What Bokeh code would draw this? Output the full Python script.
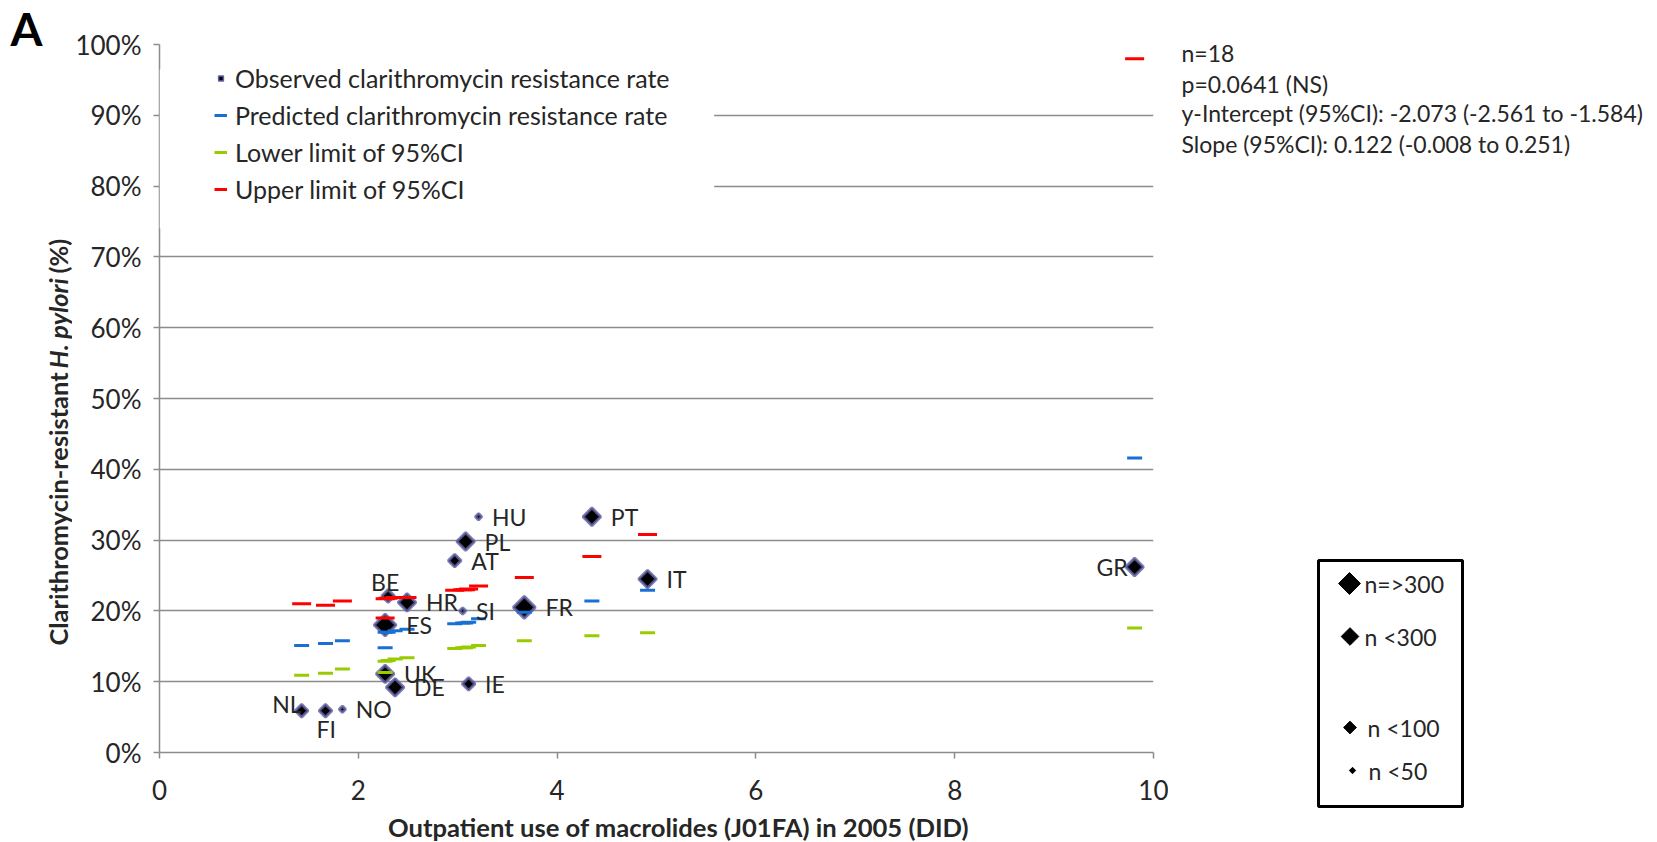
import math
from bokeh.plotting import figure
from bokeh.models import (ColumnDataSource, Range1d, NumeralTickFormatter, FixedTicker,
                          Legend, LegendItem, BoxAnnotation)
from bokeh.layouts import row, column
from bokeh.embed import file_html
from bokeh.resources import INLINE
from bokeh.core.properties import value

# ---------------- data ----------------
countries = ["NL", "FI", "NO", "ES", "UK", "BE", "DE", "HR", "AT", "SI",
             "PL", "IE", "HU", "FR", "PT", "IT", "GR"]
macrolide_use = [1.43, 1.67, 1.84, 2.27, 2.27, 2.30, 2.37, 2.49, 2.97, 3.05,
                 3.08, 3.11, 3.21, 3.67, 4.35, 4.91, 9.81]
observed_pct = [5.9, 5.9, 6.1, 18.0, 11.1, 22.1, 9.2, 21.2, 27.1, 20.0,
                29.8, 9.7, 33.3, 20.5, 33.3, 24.5, 26.2]
predicted_pct = [15.1, 15.4, 15.8, 17.0, 14.8, 17.0, 17.2, 17.4, 18.2, 18.3,
                 18.3, 18.4, 18.9, 19.8, 21.4, 22.9, 41.6]
lower_ci_pct = [10.9, 11.2, 11.8, 12.9, 11.3, 13.0, 13.2, 13.4, 14.7, 14.8,
                14.8, 14.9, 15.1, 15.8, 16.5, 16.9, 17.6]
upper_ci_pct = [21.0, 20.8, 21.4, 21.7, 19.0, 21.8, 21.9, 21.9, 22.9, 23.0,
                23.0, 23.1, 23.5, 24.7, 27.7, 30.8, 98.0]
sample_group = ["n <100", "n <100", "n <50", "n=>300", "n <300", "n <100", "n <300",
                "n <300", "n <100", "n <50", "n <300", "n <100", "n <50", "n=>300",
                "n <300", "n <300", "n <300"]
size_groups = ["n=>300", "n <300", "n <100", "n <50"]
stats_lines = ["n=18", "p=0.0641 (NS)",
               "y-Intercept (95%CI): -2.073 (-2.561 to -1.584)",
               "Slope (95%CI): 0.122 (-0.008 to 0.251)"]
legend_labels = ["Observed clarithromycin resistance rate",
                 "Predicted clarithromycin resistance rate",
                 "Lower limit of 95%CI", "Upper limit of 95%CI"]
x_ticks = [0, 2, 4, 6, 8, 10]
y_ticks = [0.0, 0.1, 0.2, 0.3, 0.4, 0.5, 0.6, 0.7, 0.8, 0.9, 1.0]
x_title = "Outpatient use of macrolides (J01FA) in 2005 (DID)"
y_title_parts = ["Clarithromycin-resistant", "H. pylori", "(%)"]
panel_letter = "A"

# ---------------- style ----------------
FONT = "Lato"
TXT = "#262626"
GRIDC = "#8c8c8c"
BLUE = "#1a6fd4"
GREEN = "#99cc00"
RED = "#ff0000"
HALO = "#5f5fa3"
HALO_W = 3.0
GROUP_SIZE = {"n=>300": 15.5, "n <300": 12.5, "n <100": 9.0, "n <50": 4.5}
LABEL_POS = {"NL": "upleft", "FI": "below", "BE": "above", "GR": "left"}
ROW_H = 812
TOTAL_W = 1657
TOTAL_H = 842
LEFT_W = 72
MAIN_W = 1096


def panel(width, height, y0, y1):
    f = figure(width=width, height=height, x_range=Range1d(0, width),
               y_range=Range1d(y1, y0), x_axis_type=None, y_axis_type=None,
               title=None, output_backend="svg", toolbar_location=None,
               min_border=0, frame_align=False)
    f.outline_line_color = None
    f.grid.visible = False
    return f


sizes = [GROUP_SIZE[g] for g in sample_group]
half = [(s + HALO_W) * math.sqrt(2) / 2 for s in sizes]
xo, yo, ta = [], [], []
for c, h in zip(countries, half):
    pos = LABEL_POS.get(c, "right")
    if pos == "right":
        xo.append(h + 8); yo.append(0); ta.append("left")
    elif pos == "left":
        xo.append(-7); yo.append(0); ta.append("right")
    elif pos == "above":
        xo.append(-3); yo.append(-14); ta.append("center")
    elif pos == "upleft":
        xo.append(0); yo.append(-7); ta.append("right")
    else:  # below
        xo.append(-9); yo.append(18); ta.append("left")

src = ColumnDataSource(dict(
    x=macrolide_use,
    obs=[v / 100 for v in observed_pct],
    pred=[v / 100 for v in predicted_pct],
    low=[v / 100 for v in lower_ci_pct],
    up=[v / 100 for v in upper_ci_pct],
    country=countries, size=sizes, xo=xo, yo=yo, ta=ta,
))

# ---------------- main chart ----------------
p = figure(width=MAIN_W, height=ROW_H, x_range=Range1d(0, 10), y_range=Range1d(0, 1),
           title=None, output_backend="svg", toolbar_location=None, frame_align=False,
           min_border_left=84, min_border_right=15, min_border_top=44,
           min_border_bottom=ROW_H - 752)
p.outline_line_color = None
p.xgrid.visible = False
p.ygrid.grid_line_color = GRIDC
p.ygrid.grid_line_width = 1.5
p.xaxis.ticker = FixedTicker(ticks=x_ticks)
p.yaxis.ticker = FixedTicker(ticks=y_ticks)
p.yaxis.formatter = NumeralTickFormatter(format="0%")
for ax in (p.xaxis[0], p.yaxis[0]):
    ax.axis_line_color = GRIDC
    ax.axis_line_width = 1.5
    ax.major_tick_line_color = GRIDC
    ax.major_tick_line_width = 1.5
    ax.major_tick_in = 0
    ax.major_tick_out = 6
    ax.minor_tick_line_color = None
    ax.major_label_text_font = FONT
    ax.major_label_text_font_size = "26px"
    ax.major_label_text_color = TXT
p.yaxis.major_label_standoff = 12
p.xaxis.major_label_standoff = 21

p.scatter("x", "obs", source=src, marker="square", angle=math.pi / 4,
          size="size", fill_color="black", line_color=HALO,
          line_width=HALO_W, line_alpha=0.8)
p.scatter("x", "pred", source=src, marker="dash", size=15, line_color=BLUE, line_width=3)
p.scatter("x", "low", source=src, marker="dash", size=15, line_color=GREEN, line_width=3)
p.scatter("x", "up", source=src, marker="dash", size=19, line_color=RED, line_width=3)

p.text("x", "obs", text="country", source=src, x_offset="xo", y_offset="yo",
       text_align="ta", text_baseline="middle", text_font=value(FONT),
       text_font_size="23px", text_color=TXT)

# white area behind the series legend (hides the grid lines there)
p.add_layout(BoxAnnotation(left=0, right=5.58, bottom=0.74, top=0.965,
                           fill_color="white", fill_alpha=1.0, line_color=None))

# legend proxies (points placed outside the visible ranges)
obs_leg = p.scatter([-5], [-5], marker="square", angle=math.pi / 4, size=5,
                    fill_color="black", line_color=HALO, line_width=1.5)
pred_leg = p.line([-5, -4], [-5, -5], line_color=BLUE, line_width=3)
low_leg = p.line([-5, -4], [-5, -5], line_color=GREEN, line_width=3)
up_leg = p.line([-5, -4], [-5, -5], line_color=RED, line_width=3)
legend = Legend(items=[LegendItem(label=legend_labels[0], renderers=[obs_leg]),
                       LegendItem(label=legend_labels[1], renderers=[pred_leg]),
                       LegendItem(label=legend_labels[2], renderers=[low_leg]),
                       LegendItem(label=legend_labels[3], renderers=[up_leg])],
                location=(55, 548), glyph_width=13, glyph_height=12,
                label_standoff=8, label_width=440, padding=10, spacing=7,
                label_text_font=FONT, label_text_font_size="25px",
                label_text_color=TXT, background_fill_alpha=0.0,
                border_line_color=None, margin=0)
p.add_layout(legend)

# ---------------- left strip: panel letter + y title ----------------
left = panel(LEFT_W, ROW_H, 0, ROW_H)
left.text(x=[10], y=[27.5], text=[panel_letter], text_align="left",
          text_baseline="middle", text_font=value(FONT), text_font_style="bold",
          text_font_size="46px", text_color="black")
y_title_start = [645, 368, 273]
y_title_style = ["bold", "bold italic", "bold"]
for txt, ys, st in zip(y_title_parts, y_title_start, y_title_style):
    left.text(x=[57], y=[ys], text=[txt], angle=math.pi / 2, text_align="left",
              text_baseline="middle", text_font=value(FONT), text_font_style=st,
              text_font_size="25.4px", text_color=TXT)

# ---------------- right strip: statistics + size legend ----------------
RX = LEFT_W + MAIN_W
right = panel(TOTAL_W - RX, ROW_H, 0, ROW_H)
stat_y = [52, 83, 112.5, 143]
right.text(x=[1181 - RX] * len(stats_lines), y=stat_y, text=stats_lines,
           text_align="left", text_baseline="middle", text_font=value(FONT),
           text_font_size="23px", text_color=TXT)
right.quad(left=[1318 - RX], right=[1462 - RX], top=[560], bottom=[806],
           fill_color=None, line_color="black", line_width=3)
leg_x = [1349 - RX, 1349.5 - RX, 1349.5 - RX, 1352 - RX]
leg_y = [583, 636, 727, 770]
right.scatter(leg_x, leg_y, marker="square", angle=math.pi / 4,
              size=[GROUP_SIZE[g] for g in size_groups], fill_color="black",
              line_color="black", line_width=1)
right.text(x=[1364 - RX, 1364 - RX, 1367 - RX, 1368 - RX], y=leg_y, text=size_groups,
           text_align="left", text_baseline="middle", text_font=value(FONT),
           text_font_size="23px", text_color=TXT)

# ---------------- bottom strip: x title ----------------
bottom = panel(TOTAL_W, TOTAL_H - ROW_H, ROW_H, TOTAL_H)
bottom.text(x=[678], y=[826], text=[x_title], text_align="center",
            text_baseline="middle", text_font=value(FONT), text_font_style="bold",
            text_font_size="25.6px", text_color=TXT)

layout = column(row(left, p, right, spacing=0), bottom, spacing=0)
open("out.html", "w").write(file_html(layout, INLINE))
